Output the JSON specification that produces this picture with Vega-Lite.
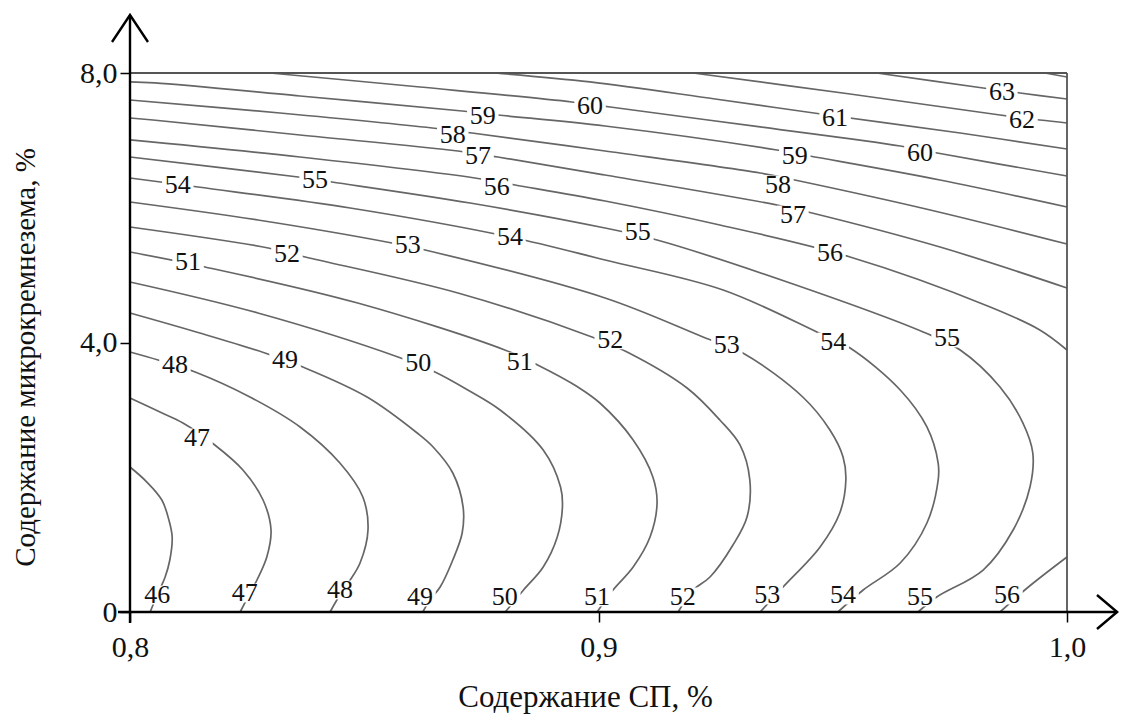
{
  "$schema": "https://vega.github.io/schema/vega-lite/v6.json",
  "width": 937,
  "height": 539,
  "autosize": {"type": "none"},
  "padding": {"left": 130, "top": 73, "right": 55, "bottom": 103},
  "background": "white",
  "config": {"view": {"stroke": null}, "font": "Liberation Serif"},
  "datasets": {
    "contours": [
      {"c": "46", "i": 0, "x": 0.8, "y": 2.152}, {"c": "46", "i": 1, "x": 0.8036, "y": 1.929}, {"c": "46", "i": 2, "x": 0.8068, "y": 1.662}, {"c": "46", "i": 3, "x": 0.8083, "y": 1.366}, {"c": "46", "i": 4, "x": 0.809, "y": 1.113}, {"c": "46", "i": 5, "x": 0.8085, "y": 0.772}, {"c": "46", "i": 6, "x": 0.8075, "y": 0.519}, {"c": "46", "i": 7, "x": 0.8058, "y": 0.252}, {"c": "46", "i": 8, "x": 0.8043, "y": 0},
      {"c": "47", "i": 0, "x": 0.8, "y": 3.176}, {"c": "47", "i": 1, "x": 0.8064, "y": 2.968}, {"c": "47", "i": 2, "x": 0.8113, "y": 2.805}, {"c": "47", "i": 3, "x": 0.8181, "y": 2.479}, {"c": "47", "i": 4, "x": 0.8241, "y": 2.108}, {"c": "47", "i": 5, "x": 0.8284, "y": 1.662}, {"c": "47", "i": 6, "x": 0.8301, "y": 1.217}, {"c": "47", "i": 7, "x": 0.8292, "y": 0.816}, {"c": "47", "i": 8, "x": 0.8271, "y": 0.475}, {"c": "47", "i": 9, "x": 0.8252, "y": 0.223}, {"c": "47", "i": 10, "x": 0.8235, "y": 0},
      {"c": "48", "i": 0, "x": 0.8, "y": 3.859}, {"c": "48", "i": 1, "x": 0.806, "y": 3.74}, {"c": "48", "i": 2, "x": 0.8139, "y": 3.562}, {"c": "48", "i": 3, "x": 0.8256, "y": 3.191}, {"c": "48", "i": 4, "x": 0.8363, "y": 2.746}, {"c": "48", "i": 5, "x": 0.8448, "y": 2.211}, {"c": "48", "i": 6, "x": 0.8497, "y": 1.707}, {"c": "48", "i": 7, "x": 0.8508, "y": 1.217}, {"c": "48", "i": 8, "x": 0.8491, "y": 0.727}, {"c": "48", "i": 9, "x": 0.847, "y": 0.475}, {"c": "48", "i": 10, "x": 0.8448, "y": 0.252}, {"c": "48", "i": 11, "x": 0.8427, "y": 0},
      {"c": "49", "i": 0, "x": 0.8, "y": 4.438}, {"c": "49", "i": 1, "x": 0.8149, "y": 4.141}, {"c": "49", "i": 2, "x": 0.8288, "y": 3.844}, {"c": "49", "i": 3, "x": 0.8369, "y": 3.636}, {"c": "49", "i": 4, "x": 0.8506, "y": 3.191}, {"c": "49", "i": 5, "x": 0.8613, "y": 2.657}, {"c": "49", "i": 6, "x": 0.8647, "y": 2.449}, {"c": "49", "i": 7, "x": 0.8689, "y": 2.063}, {"c": "49", "i": 8, "x": 0.8711, "y": 1.558}, {"c": "49", "i": 9, "x": 0.8709, "y": 1.173}, {"c": "49", "i": 10, "x": 0.8689, "y": 0.772}, {"c": "49", "i": 11, "x": 0.8662, "y": 0.371}, {"c": "49", "i": 12, "x": 0.864, "y": 0.178}, {"c": "49", "i": 13, "x": 0.8625, "y": 0},
      {"c": "50", "i": 0, "x": 0.8, "y": 4.898}, {"c": "50", "i": 1, "x": 0.8273, "y": 4.438}, {"c": "50", "i": 2, "x": 0.8572, "y": 3.785}, {"c": "50", "i": 3, "x": 0.8651, "y": 3.562}, {"c": "50", "i": 4, "x": 0.8721, "y": 3.295}, {"c": "50", "i": 5, "x": 0.879, "y": 2.998}, {"c": "50", "i": 6, "x": 0.8882, "y": 2.404}, {"c": "50", "i": 7, "x": 0.8919, "y": 1.855}, {"c": "50", "i": 8, "x": 0.8923, "y": 1.558}, {"c": "50", "i": 9, "x": 0.8912, "y": 1.113}, {"c": "50", "i": 10, "x": 0.8882, "y": 0.668}, {"c": "50", "i": 11, "x": 0.884, "y": 0.327}, {"c": "50", "i": 12, "x": 0.8801, "y": 0},
      {"c": "51", "i": 0, "x": 0.8, "y": 5.343}, {"c": "51", "i": 1, "x": 0.816, "y": 5.121}, {"c": "51", "i": 2, "x": 0.8486, "y": 4.586}, {"c": "51", "i": 3, "x": 0.88, "y": 3.889}, {"c": "51", "i": 4, "x": 0.887, "y": 3.666}, {"c": "51", "i": 5, "x": 0.8956, "y": 3.339}, {"c": "51", "i": 6, "x": 0.9003, "y": 3.102}, {"c": "51", "i": 7, "x": 0.9074, "y": 2.553}, {"c": "51", "i": 8, "x": 0.9116, "y": 2.004}, {"c": "51", "i": 9, "x": 0.9125, "y": 1.618}, {"c": "51", "i": 10, "x": 0.911, "y": 1.113}, {"c": "51", "i": 11, "x": 0.9074, "y": 0.668}, {"c": "51", "i": 12, "x": 0.9031, "y": 0.327}, {"c": "51", "i": 13, "x": 0.8997, "y": 0},
      {"c": "52", "i": 0, "x": 0.8, "y": 5.714}, {"c": "52", "i": 1, "x": 0.8295, "y": 5.403}, {"c": "52", "i": 2, "x": 0.8374, "y": 5.269}, {"c": "52", "i": 3, "x": 0.87, "y": 4.735}, {"c": "52", "i": 4, "x": 0.8986, "y": 4.082}, {"c": "52", "i": 5, "x": 0.9061, "y": 3.859}, {"c": "52", "i": 6, "x": 0.9189, "y": 3.325}, {"c": "52", "i": 7, "x": 0.9259, "y": 2.85}, {"c": "52", "i": 8, "x": 0.9302, "y": 2.479}, {"c": "52", "i": 9, "x": 0.9323, "y": 1.959}, {"c": "52", "i": 10, "x": 0.9317, "y": 1.41}, {"c": "52", "i": 11, "x": 0.9287, "y": 0.994}, {"c": "52", "i": 12, "x": 0.9238, "y": 0.519}, {"c": "52", "i": 13, "x": 0.9202, "y": 0.327}, {"c": "52", "i": 14, "x": 0.917, "y": 0},
      {"c": "53", "i": 0, "x": 0.8, "y": 6.085}, {"c": "53", "i": 1, "x": 0.8273, "y": 5.818}, {"c": "53", "i": 2, "x": 0.8559, "y": 5.477}, {"c": "53", "i": 3, "x": 0.863, "y": 5.373}, {"c": "53", "i": 4, "x": 0.9014, "y": 4.66}, {"c": "53", "i": 5, "x": 0.9223, "y": 4.082}, {"c": "53", "i": 6, "x": 0.9308, "y": 3.844}, {"c": "53", "i": 7, "x": 0.9436, "y": 3.191}, {"c": "53", "i": 8, "x": 0.9494, "y": 2.701}, {"c": "53", "i": 9, "x": 0.9522, "y": 2.301}, {"c": "53", "i": 10, "x": 0.9528, "y": 1.959}, {"c": "53", "i": 11, "x": 0.9515, "y": 1.469}, {"c": "53", "i": 12, "x": 0.9473, "y": 0.965}, {"c": "53", "i": 13, "x": 0.9394, "y": 0.371}, {"c": "53", "i": 14, "x": 0.9345, "y": 0},
      {"c": "54", "i": 0, "x": 0.8, "y": 6.442}, {"c": "54", "i": 1, "x": 0.8145, "y": 6.308}, {"c": "54", "i": 2, "x": 0.847, "y": 5.996}, {"c": "54", "i": 3, "x": 0.8811, "y": 5.566}, {"c": "54", "i": 4, "x": 0.9014, "y": 5.224}, {"c": "54", "i": 5, "x": 0.9266, "y": 4.779}, {"c": "54", "i": 6, "x": 0.9466, "y": 4.156}, {"c": "54", "i": 7, "x": 0.9537, "y": 3.918}, {"c": "54", "i": 8, "x": 0.9644, "y": 3.295}, {"c": "54", "i": 9, "x": 0.9701, "y": 2.746}, {"c": "54", "i": 10, "x": 0.9725, "y": 2.211}, {"c": "54", "i": 11, "x": 0.9725, "y": 1.959}, {"c": "54", "i": 12, "x": 0.9701, "y": 1.321}, {"c": "54", "i": 13, "x": 0.9644, "y": 0.727}, {"c": "54", "i": 14, "x": 0.9565, "y": 0.327}, {"c": "54", "i": 15, "x": 0.9511, "y": 0},
      {"c": "55", "i": 0, "x": 0.8, "y": 6.753}, {"c": "55", "i": 1, "x": 0.8359, "y": 6.456}, {"c": "55", "i": 2, "x": 0.8431, "y": 6.382}, {"c": "55", "i": 3, "x": 0.8726, "y": 6.07}, {"c": "55", "i": 4, "x": 0.9014, "y": 5.699}, {"c": "55", "i": 5, "x": 0.9125, "y": 5.521}, {"c": "55", "i": 6, "x": 0.9409, "y": 4.883}, {"c": "55", "i": 7, "x": 0.9693, "y": 4.156}, {"c": "55", "i": 8, "x": 0.9772, "y": 3.889}, {"c": "55", "i": 9, "x": 0.9857, "y": 3.339}, {"c": "55", "i": 10, "x": 0.9906, "y": 2.805}, {"c": "55", "i": 11, "x": 0.9927, "y": 2.36}, {"c": "55", "i": 12, "x": 0.9921, "y": 1.855}, {"c": "55", "i": 13, "x": 0.9885, "y": 1.217}, {"c": "55", "i": 14, "x": 0.9821, "y": 0.623}, {"c": "55", "i": 15, "x": 0.9722, "y": 0.223}, {"c": "55", "i": 16, "x": 0.9682, "y": 0},
      {"c": "56a", "i": 0, "x": 0.8, "y": 7.006}, {"c": "56a", "i": 1, "x": 0.8363, "y": 6.753}, {"c": "56a", "i": 2, "x": 0.8736, "y": 6.442}, {"c": "56a", "i": 3, "x": 0.8822, "y": 6.338}, {"c": "56a", "i": 4, "x": 0.9014, "y": 6.1}, {"c": "56a", "i": 5, "x": 0.9259, "y": 5.744}, {"c": "56a", "i": 6, "x": 0.9537, "y": 5.269}, {"c": "56a", "i": 7, "x": 0.9836, "y": 4.527}, {"c": "56a", "i": 8, "x": 0.9942, "y": 4.186}, {"c": "56a", "i": 9, "x": 1.0, "y": 3.889},
      {"c": "56b", "i": 0, "x": 0.9857, "y": 0}, {"c": "56b", "i": 1, "x": 0.9915, "y": 0.356}, {"c": "56b", "i": 2, "x": 1.0, "y": 0.816},
      {"c": "57", "i": 0, "x": 0.8, "y": 7.332}, {"c": "57", "i": 1, "x": 0.8049, "y": 7.302}, {"c": "57", "i": 2, "x": 0.8363, "y": 7.08}, {"c": "57", "i": 3, "x": 0.87, "y": 6.842}, {"c": "57", "i": 4, "x": 0.8785, "y": 6.753}, {"c": "57", "i": 5, "x": 0.9014, "y": 6.486}, {"c": "57", "i": 6, "x": 0.9381, "y": 6.041}, {"c": "57", "i": 7, "x": 0.9447, "y": 5.937}, {"c": "57", "i": 8, "x": 0.9729, "y": 5.417}, {"c": "57", "i": 9, "x": 1.0, "y": 4.809},
      {"c": "58", "i": 0, "x": 0.8, "y": 7.599}, {"c": "58", "i": 1, "x": 0.832, "y": 7.406}, {"c": "58", "i": 2, "x": 0.8645, "y": 7.184}, {"c": "58", "i": 3, "x": 0.873, "y": 7.109}, {"c": "58", "i": 4, "x": 0.9014, "y": 6.842}, {"c": "58", "i": 5, "x": 0.9345, "y": 6.516}, {"c": "58", "i": 6, "x": 0.9419, "y": 6.412}, {"c": "58", "i": 7, "x": 0.9708, "y": 5.967}, {"c": "58", "i": 8, "x": 1.0, "y": 5.462},
      {"c": "59", "i": 0, "x": 0.8, "y": 7.867}, {"c": "59", "i": 1, "x": 0.8053, "y": 7.852}, {"c": "59", "i": 2, "x": 0.8363, "y": 7.659}, {"c": "59", "i": 3, "x": 0.8709, "y": 7.436}, {"c": "59", "i": 4, "x": 0.8785, "y": 7.377}, {"c": "59", "i": 5, "x": 0.9014, "y": 7.213}, {"c": "59", "i": 6, "x": 0.9381, "y": 6.857}, {"c": "59", "i": 7, "x": 0.9451, "y": 6.768}, {"c": "59", "i": 8, "x": 0.9729, "y": 6.412}, {"c": "59", "i": 9, "x": 1.0, "y": 6.011},
      {"c": "60", "i": 0, "x": 0.8299, "y": 8.0}, {"c": "60", "i": 1, "x": 0.8619, "y": 7.792}, {"c": "60", "i": 2, "x": 0.8943, "y": 7.57}, {"c": "60", "i": 3, "x": 0.9025, "y": 7.495}, {"c": "60", "i": 4, "x": 0.9345, "y": 7.199}, {"c": "60", "i": 5, "x": 0.9644, "y": 6.916}, {"c": "60", "i": 6, "x": 0.9723, "y": 6.813}, {"c": "60", "i": 7, "x": 1.0, "y": 6.471},
      {"c": "61", "i": 0, "x": 0.8779, "y": 8.0}, {"c": "61", "i": 1, "x": 0.8982, "y": 7.867}, {"c": "61", "i": 2, "x": 0.9249, "y": 7.614}, {"c": "61", "i": 3, "x": 0.9505, "y": 7.362}, {"c": "61", "i": 4, "x": 0.9772, "y": 7.109}, {"c": "61", "i": 5, "x": 1.0, "y": 6.872},
      {"c": "62", "i": 0, "x": 0.9202, "y": 8.0}, {"c": "62", "i": 1, "x": 0.9537, "y": 7.688}, {"c": "62", "i": 2, "x": 0.9857, "y": 7.377}, {"c": "62", "i": 3, "x": 0.9942, "y": 7.302}, {"c": "62", "i": 4, "x": 1.0, "y": 7.258},
      {"c": "63", "i": 0, "x": 0.9594, "y": 8.0}, {"c": "63", "i": 1, "x": 0.9821, "y": 7.777}, {"c": "63", "i": 2, "x": 0.99, "y": 7.703}, {"c": "63", "i": 3, "x": 1.0, "y": 7.614},
      {"c": "64", "i": 0, "x": 0.9953, "y": 8.0}, {"c": "64", "i": 1, "x": 1.0, "y": 7.941}
    ],
    "labels": [
      {"t": "54", "x": 0.8102, "y": 6.338}, {"t": "55", "x": 0.8395, "y": 6.412}, {"t": "56", "x": 0.8783, "y": 6.308},
      {"t": "57", "x": 0.8743, "y": 6.768}, {"t": "58", "x": 0.8689, "y": 7.08}, {"t": "59", "x": 0.8753, "y": 7.362},
      {"t": "60", "x": 0.8982, "y": 7.51}, {"t": "51", "x": 0.8124, "y": 5.195}, {"t": "52", "x": 0.8335, "y": 5.313},
      {"t": "53", "x": 0.8593, "y": 5.447}, {"t": "54", "x": 0.8811, "y": 5.566}, {"t": "55", "x": 0.9084, "y": 5.64},
      {"t": "56", "x": 0.9494, "y": 5.328}, {"t": "57", "x": 0.9415, "y": 5.892}, {"t": "58", "x": 0.9383, "y": 6.338},
      {"t": "59", "x": 0.9419, "y": 6.768}, {"t": "60", "x": 0.9686, "y": 6.813}, {"t": "61", "x": 0.9505, "y": 7.332},
      {"t": "62", "x": 0.9904, "y": 7.302}, {"t": "63", "x": 0.9861, "y": 7.718},
      {"t": "48", "x": 0.8096, "y": 3.666}, {"t": "49", "x": 0.8331, "y": 3.74}, {"t": "50", "x": 0.8615, "y": 3.696},
      {"t": "51", "x": 0.8832, "y": 3.711}, {"t": "52", "x": 0.9025, "y": 4.04}, {"t": "53", "x": 0.9274, "y": 3.963},
      {"t": "54", "x": 0.9501, "y": 4.007}, {"t": "55", "x": 0.9744, "y": 4.067}, {"t": "47", "x": 0.8143, "y": 2.583},
      {"t": "46", "x": 0.8058, "y": 0.252}, {"t": "47", "x": 0.8245, "y": 0.282}, {"t": "48", "x": 0.8448, "y": 0.327},
      {"t": "49", "x": 0.8619, "y": 0.223}, {"t": "50", "x": 0.88, "y": 0.223}, {"t": "51", "x": 0.8997, "y": 0.223},
      {"t": "52", "x": 0.918, "y": 0.223}, {"t": "53", "x": 0.936, "y": 0.252}, {"t": "54", "x": 0.9522, "y": 0.252},
      {"t": "55", "x": 0.9686, "y": 0.223}, {"t": "56", "x": 0.9872, "y": 0.252}
    ],
    "frame": [
      {"s": "top", "i": 0, "x": 0.8, "y": 8}, {"s": "top", "i": 1, "x": 1.0, "y": 8},
      {"s": "right", "i": 0, "x": 1.0, "y": 8}, {"s": "right", "i": 1, "x": 1.0, "y": 0}
    ],
    "axes": [
      {"s": "yline", "i": 0, "x": 0.8, "y": -0.163}, {"s": "yline", "i": 1, "x": 0.8, "y": 8.861},
      {"s": "yhead", "i": 0, "x": 0.79616, "y": 8.46}, {"s": "yhead", "i": 1, "x": 0.8, "y": 8.861}, {"s": "yhead", "i": 2, "x": 0.80384, "y": 8.46},
      {"s": "xline", "i": 0, "x": 0.79744, "y": 0}, {"s": "xline", "i": 1, "x": 1.0107, "y": 0},
      {"s": "xhead", "i": 0, "x": 1.0064, "y": 0.252}, {"s": "xhead", "i": 1, "x": 1.0107, "y": 0}, {"s": "xhead", "i": 2, "x": 1.0064, "y": -0.252}
    ]
  },
  "encoding": {
    "x": {
      "field": "x",
      "type": "quantitative",
      "scale": {"domain": [0.8, 1.0], "nice": false, "zero": false},
      "axis": {
        "title": "Содержание СП, %",
        "values": [0.8, 0.9, 1.0],
        "domain": false,
        "grid": false,
        "tickSize": 10,
        "tickColor": "#000",
        "tickWidth": 1.5,
        "labelExpr": "replace(format(datum.value, '.1f'), '.', ',')",
        "labelFont": "Liberation Serif",
        "labelFontSize": 30,
        "labelColor": "#111",
        "labelPadding": 10,
        "labelFlush": false,
        "titleFont": "Liberation Serif",
        "titleFontSize": 31,
        "titleFontWeight": "normal",
        "titleColor": "#111",
        "titleX": 455,
        "titleY": 85,
        "titleBaseline": "middle"
      }
    },
    "y": {
      "field": "y",
      "type": "quantitative",
      "scale": {"domain": [0, 8], "nice": false, "zero": false},
      "axis": {
        "title": "Содержание микрокремнезема, %",
        "values": [0, 4, 8],
        "domain": false,
        "grid": false,
        "tickSize": 10,
        "tickColor": "#000",
        "tickWidth": 1.5,
        "labelExpr": "datum.value == 0 ? '0' : replace(format(datum.value, '.1f'), '.', ',')",
        "labelFont": "Liberation Serif",
        "labelFontSize": 30,
        "labelColor": "#111",
        "labelPadding": 3,
        "labelFlush": false,
        "titleFont": "Liberation Serif",
        "titleFontSize": 29,
        "titleFontWeight": "normal",
        "titleColor": "#111",
        "titleX": -105,
        "titleY": 284,
        "titleBaseline": "middle"
      }
    }
  },
  "layer": [
    {
      "data": {"name": "contours"},
      "mark": {"type": "line", "stroke": "#666666", "strokeWidth": 1.7, "interpolate": "catmull-rom"},
      "encoding": {"detail": {"field": "c"}, "order": {"field": "i", "type": "quantitative"}}
    },
    {
      "data": {"name": "frame"},
      "mark": {"type": "line", "stroke": "#555555", "strokeWidth": 1.8},
      "encoding": {"detail": {"field": "s"}, "order": {"field": "i", "type": "quantitative"}}
    },
    {
      "data": {"name": "labels"},
      "mark": {"type": "point", "shape": "M-1.5,-0.9L1.5,-0.9L1.5,0.9L-1.5,0.9Z", "filled": true, "fill": "white", "opacity": 1, "size": 440, "strokeWidth": 0}
    },
    {
      "data": {"name": "labels"},
      "mark": {"type": "text", "font": "Liberation Serif", "fontSize": 26, "fill": "#111", "align": "center", "baseline": "middle"},
      "encoding": {"text": {"field": "t", "type": "nominal"}}
    },
    {
      "data": {"name": "axes"},
      "mark": {"type": "line", "stroke": "#000000", "strokeWidth": 2.4},
      "encoding": {"detail": {"field": "s"}, "order": {"field": "i", "type": "quantitative"}}
    }
  ]
}
